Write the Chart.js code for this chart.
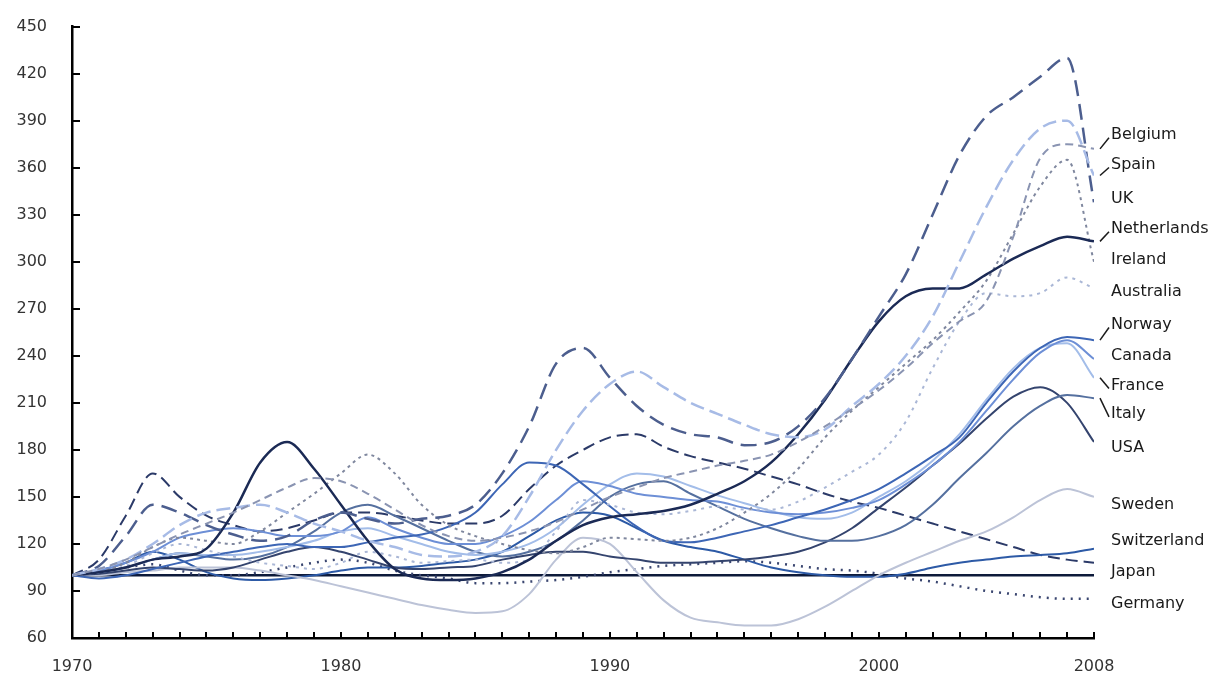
<!DOCTYPE html>
<html>
<head>
<meta charset="utf-8">
<title>Real house prices</title>
<script src="https://cdn.jsdelivr.net/npm/chart.js@4.4.1/dist/chart.umd.min.js"></script>
<style>
  body { margin: 0; background: #fff; }
  #chart-wrap { width: 1222px; height: 675px; }
</style>
</head>
<body>
<div id="chart-wrap"><canvas id="myChart"></canvas></div>
<script>
// DATA (index, 1970 = 100)
const years = [1970, 1971, 1972, 1973, 1974, 1975, 1976, 1977, 1978, 1979,
  1980, 1981, 1982, 1983, 1984, 1985, 1986, 1987, 1988, 1989,
  1990, 1991, 1992, 1993, 1994, 1995, 1996, 1997, 1998, 1999,
  2000, 2001, 2002, 2003, 2004, 2005, 2006, 2007, 2008]

const belgium = [100, 104, 110, 118, 126, 133, 140, 148, 156, 162,
  160, 152, 142, 132, 125, 122, 124, 128, 134, 142,
  150, 156, 162, 166, 170, 173, 177, 185, 195, 206,
  218, 232, 248, 262, 275, 316, 366, 375, 372]
const spain = [100, 104, 110, 120, 132, 140, 143, 145, 140, 133,
  128, 122, 118, 113, 112, 115, 125, 150, 180, 205,
  222, 230, 220, 210, 203, 196, 190, 188, 193, 208,
  222, 240, 265, 300, 335, 365, 385, 390, 355]
const uk = [100, 106, 125, 145, 140, 132, 126, 122, 125, 135,
  140, 136, 133, 136, 138, 145, 165, 195, 235, 245,
  226, 208, 196, 190, 188, 183, 185, 195, 213, 238,
  265, 292, 330, 368, 393, 405, 418, 430, 338]
const netherlands = [100, 102, 105, 110, 112, 117, 140, 172, 185, 168,
  145, 122, 104, 98, 97, 98, 102, 110, 122, 132,
  137, 139, 141, 145, 152, 160, 172, 190, 212, 238,
  262, 278, 283, 283, 292, 302, 310, 316, 313]
const ireland = [100, 102, 108, 118, 124, 122, 120, 128, 140, 152,
  165, 177, 165, 145, 132, 125, 120, 116, 114, 118,
  124, 123, 122, 124, 130, 140, 152, 168, 188, 205,
  220, 235, 250, 268, 288, 318, 348, 365, 300]
const australia = [100, 102, 106, 114, 120, 116, 112, 108, 106, 104,
  108, 115, 112, 108, 109, 110, 108, 110, 128, 148,
  145, 140, 139, 141, 144, 142, 142, 147, 156, 166,
  177, 198, 232, 262, 280, 278, 280, 290, 283]
const norway = [100, 98, 100, 104, 108, 112, 115, 118, 120, 118,
  118, 121, 124, 126, 131, 140, 158, 172, 170, 158,
  144, 131, 122, 121, 124, 128, 132, 137, 142, 148,
  155, 165, 176, 188, 210, 230, 245, 252, 250]
const canada = [100, 103, 108, 115, 124, 128, 130, 128, 125, 125,
  128, 137, 130, 124, 120, 120, 125, 134, 148, 160,
  157, 152, 150, 148, 147, 143, 140, 139, 140, 143,
  148, 158, 170, 185, 205, 225, 242, 250, 238]
const france = [100, 102, 105, 110, 114, 113, 113, 115, 118, 122,
  128, 130, 125, 120, 115, 113, 115, 120, 130, 145,
  158, 165, 163, 157, 151, 146, 141, 137, 136, 140,
  150, 160, 173, 190, 212, 232, 245, 248, 226]
const italy = [100, 102, 105, 110, 114, 112, 110, 112, 118, 128,
  140, 145, 138, 130, 122, 115, 112, 115, 122, 135,
  150, 158, 160, 152, 144, 136, 130, 125, 122, 122,
  125, 132, 145, 162, 178, 195, 208, 215, 213]
const usa = [100, 101, 103, 105, 104, 103, 105, 110, 115, 118,
  115, 110, 105, 104, 105, 106, 110, 113, 115, 115,
  112, 110, 108, 108, 109, 110, 112, 115, 121, 130,
  143, 156, 170, 184, 200, 214, 220, 210, 185]
const sweden = [100, 100, 102, 103, 105, 105, 105, 103, 100, 97,
  93, 89, 85, 81, 78, 76, 77, 88, 110, 124,
  120, 102, 84, 73, 70, 68, 68, 72, 80, 90,
  100, 108, 115, 122, 128, 137, 148, 155, 150]
const switzerland = [100, 103, 108, 115, 110, 102, 98, 97, 98, 100,
  103, 105, 105, 106, 108, 110, 115, 125, 135, 140,
  138, 130, 122, 118, 115, 110, 105, 102, 100, 99,
  99, 101, 105, 108, 110, 112, 113, 114, 117]
const japan = [100, 110, 138, 165, 150, 138, 132, 128, 130, 135,
  140, 140, 138, 135, 133, 133, 138, 155, 170, 180,
  188, 190, 182, 176, 172, 168, 163, 158, 152, 147,
  143, 138, 133, 128, 123, 118, 113, 110, 108]
const germany = [100, 102, 105, 107, 103, 100, 100, 102, 105, 108,
  110, 108, 103, 100, 98, 95, 95, 96, 97, 99,
  102, 104, 106, 107, 108, 109, 108, 106, 104, 103,
  101, 98, 96, 93, 90, 88, 86, 85, 85]

// base line at 100
const baseYears = [1970, 2008]
const baseValues = [100, 100]

const countries = ['Belgium', 'Spain', 'UK', 'Netherlands', 'Ireland', 'Australia', 'Norway',
  'Canada', 'France', 'Italy', 'USA', 'Sweden', 'Switzerland', 'Japan', 'Germany']
const countryValues = [belgium, spain, uk, netherlands, ireland, australia, norway,
  canada, france, italy, usa, sweden, switzerland, japan, germany]

const xTickLabels = [1970, 1980, 1990, 2000, 2008]

// LINE STYLES
const lineStyles = {
  Belgium:     { color: '#8a94b2', dash: [8, 5], width: 2 },
  Spain:       { color: '#a7bbe6', dash: [14, 6], width: 2.5 },
  UK:          { color: '#4c5e8e', dash: [16, 8], width: 2.5 },
  Netherlands: { color: '#1b2a55', dash: [], width: 2.5 },
  Ireland:     { color: '#7f879e', dash: [3, 4], width: 2 },
  Australia:   { color: '#aab7d6', dash: [3, 5], width: 2 },
  Norway:      { color: '#3d66b5', dash: [], width: 2 },
  Canada:      { color: '#6d8fd6', dash: [], width: 2 },
  France:      { color: '#a3bde9', dash: [], width: 2 },
  Italy:       { color: '#55709f', dash: [], width: 2 },
  USA:         { color: '#34446e', dash: [], width: 2 },
  Sweden:      { color: '#bcc3d7', dash: [], width: 2 },
  Switzerland: { color: '#2d5aa6', dash: [], width: 2 },
  Japan:       { color: '#2b3a68', dash: [12, 6], width: 2 },
  Germany:     { color: '#3a4670', dash: [2, 6], width: 2.5 }
}

// END LABEL SPOTS (value on the y axis where each name sits)
const labelSpots = {
  Belgium: 381, Spain: 362, UK: 340, Netherlands: 321, Ireland: 301, Australia: 281,
  Norway: 260, Canada: 240, France: 221, Italy: 203, USA: 181, Sweden: 145,
  Switzerland: 122, Japan: 102, Germany: 82
}
const leaders = ['Belgium', 'Spain', 'Netherlands', 'Norway', 'France', 'Italy']

// BUILD DATASETS
const datasets = countries.map((name, i) => ({
  label: name,
  data: countryValues[i].map((v, j) => ({ x: years[j], y: v })),
  borderColor: lineStyles[name].color,
  borderDash: lineStyles[name].dash,
  borderWidth: lineStyles[name].width,
  pointRadius: 0,
  fill: false,
  cubicInterpolationMode: 'monotone'
}))
datasets.push({
  label: 'base',
  data: baseValues.map((v, j) => ({ x: baseYears[j], y: v })),
  borderColor: '#0d1a3a',
  borderWidth: 2.5,
  pointRadius: 0,
  fill: false
})

// PLUGIN: names at the right end of each line
const endLabels = {
  id: 'endLabels',
  afterDatasetsDraw(chart) {
    const ctx = chart.ctx
    const yScale = chart.scales.y
    const right = chart.chartArea.right
    ctx.save()
    ctx.font = '16px "DejaVu Sans"'
    ctx.fillStyle = '#1a1a1a'
    ctx.textBaseline = 'middle'
    chart.data.datasets.forEach((ds) => {
      if (!(ds.label in labelSpots)) return
      const yLab = yScale.getPixelForValue(labelSpots[ds.label])
      const yEnd = yScale.getPixelForValue(ds.data[ds.data.length - 1].y)
      if (leaders.includes(ds.label)) {
        ctx.strokeStyle = '#1a1a1a'
        ctx.lineWidth = 1.5
        ctx.beginPath()
        ctx.moveTo(right + 6, yEnd)
        ctx.lineTo(right + 15, yLab + 3)
        ctx.stroke()
      }
      ctx.fillText(ds.label, right + 17, yLab)
    })
    ctx.restore()
  }
}

// PLUGIN: tick marks pointing into the plot
const inwardTicks = {
  id: 'inwardTicks',
  afterDraw(chart) {
    const { ctx, chartArea, scales } = chart
    ctx.save()
    ctx.strokeStyle = '#000'
    ctx.lineWidth = 2
    ctx.beginPath()
    scales.x.ticks.forEach((t) => {
      const px = Math.round(scales.x.getPixelForValue(t.value))
      ctx.moveTo(px, chartArea.bottom)
      ctx.lineTo(px, chartArea.bottom - 6)
    })
    scales.y.ticks.forEach((t) => {
      const py = Math.round(scales.y.getPixelForValue(t.value))
      ctx.moveTo(chartArea.left, py)
      ctx.lineTo(chartArea.left + 8, py)
    })
    ctx.stroke()
    ctx.restore()
  }
}

const ctx = document.getElementById('myChart').getContext('2d')
const myChart = new Chart(ctx, {
  type: 'line',
  data: { datasets: datasets },
  plugins: [endLabels, inwardTicks],
  options: {
    responsive: true,
    maintainAspectRatio: false,
    animation: false,
    layout: { padding: { top: 21, right: 128, left: 0, bottom: 0 } },
    plugins: {
      legend: { display: false },
      tooltip: { enabled: false }
    },
    scales: {
      x: {
        type: 'linear',
        min: 1970,
        max: 2008,
        afterFit: (scale) => { scale.height = 37 },
        afterBuildTicks: (scale) => { scale.ticks = years.map((y) => ({ value: y })) },
        grid: { display: false },
        border: { display: true, color: '#000', width: 2.5 },
        ticks: {
          autoSkip: false,
          maxRotation: 0,
          padding: 11,
          color: '#333',
          font: { family: 'DejaVu Sans', size: 16 },
          callback: (v) => xTickLabels.includes(v) ? String(v) : ''
        }
      },
      y: {
        min: 60,
        max: 450,
        afterFit: (scale) => { scale.width = 72 },
        grid: { display: false },
        border: { display: true, color: '#000', width: 2.5 },
        ticks: {
          stepSize: 30,
          padding: 17,
          color: '#333',
          font: { family: 'DejaVu Sans', size: 16 }
        }
      }
    }
  }
})
</script>
</body>
</html>
